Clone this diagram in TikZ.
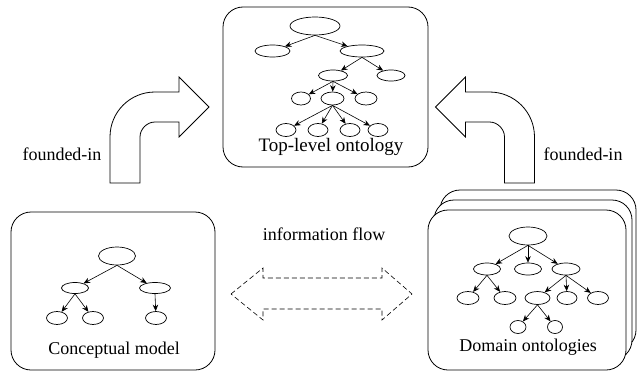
\documentclass[tikz,border=0pt]{standalone}
\usepackage{fontspec}
\setmainfont{Liberation Serif}
\usetikzlibrary{shapes.geometric, arrows.meta}

\begin{document}
\begin{tikzpicture}[
    x=1pt, y=-1pt,
    font=\fontsize{18}{20}\selectfont,
    line width=0.7pt,
    oval/.style args={#1x#2}{ellipse, draw, inner sep=0pt,
        minimum width=#1pt, minimum height=#2pt},
    link/.style={-{Stealth[length=6.5pt, width=5.5pt]}, line width=0.6pt},
    panel/.style={draw, fill=white, rounded corners=20pt, line width=0.8pt},
    % Big bent arrow, drawn as a shape
    bent arrow/.pic={
        \draw[line width=0.8pt] (110,183) -- (110,137)
            .. controls (110,112) and (130,92) .. (155,92)
            -- (179,92) -- (179,77) -- (209,107) -- (179,137) -- (179,122)
            -- (155,122) .. controls (147,122) and (140,129) .. (140,137)
            -- (140,183) -- cycle;
    }
]
    \useasboundingbox (0,0) rectangle (637,372);

    % Boxes
    \draw[panel] (223,7) rectangle (428,167);
    \draw[panel] (11,212) rectangle (215,370);
    \draw[panel] (440,190) rectangle (636,350);
    \draw[panel] (434,200) rectangle (632,360);
    \draw[panel] (428,210) rectangle (626,370);

    % Top-level tree
    \node[oval=50x18] (top_root) at (315,26) {};
    \node[oval=35x12] (top_a) at (272.5,51) {};
    \node[oval=44x12] (top_b) at (362,51) {};
    \node[oval=29x11] (top_ba) at (333,75.5) {};
    \node[oval=28x11] (top_bb) at (391,75.5) {};
    \node[oval=19x13] (top_baa) at (301,98.5) {};
    \node[oval=23x13] (top_bab) at (332.5,98.5) {};
    \node[oval=22x13] (top_bac) at (366,98.5) {};
    \node[oval=20x13] (top_leaf1) at (286,130) {};
    \node[oval=20x13] (top_leaf2) at (318,130) {};
    \node[oval=20x13] (top_leaf3) at (350,130) {};
    \node[oval=20x13] (top_leaf4) at (378,130) {};

    % Conceptual tree
    \node[oval=37x18] (con_root) at (117,256) {};
    \node[oval=27x11] (con_a) at (75,288) {};
    \node[oval=31x11] (con_b) at (155,288) {};
    \node[oval=21x13] (con_aa) at (57,318) {};
    \node[oval=21x13] (con_ab) at (93,318) {};
    \node[oval=21x13] (con_ba) at (156,318) {};

    % Domain tree
    \node[oval=38x18] (dom_root) at (528,236) {};
    \node[oval=27x12] (dom_a) at (487,269) {};
    \node[oval=27x12] (dom_b) at (528,269) {};
    \node[oval=28x12] (dom_c) at (566,269) {};
    \node[oval=22x13] (dom_aa) at (468,298) {};
    \node[oval=22x13] (dom_ab) at (505,298) {};
    \node[oval=25x13] (dom_ca) at (537.5,298) {};
    \node[oval=20x13] (dom_cb) at (567,298) {};
    \node[oval=21x13] (dom_cc) at (598,298) {};
    \node[oval=16x13] (dom_caa) at (518,327) {};
    \node[oval=15x13] (dom_cab) at (555,327) {};

    % Tree edges
    \foreach \p/\c in {top_root/top_a, top_root/top_b, top_b/top_ba, top_b/top_bb,
        top_ba/top_baa, top_ba/top_bab, top_ba/top_bac,
        top_bab/top_leaf1, top_bab/top_leaf2, top_bab/top_leaf3, top_bab/top_leaf4,
        con_root/con_a, con_root/con_b, con_a/con_aa, con_a/con_ab, con_b/con_ba,
        dom_root/dom_a, dom_root/dom_b, dom_root/dom_c, dom_a/dom_aa, dom_a/dom_ab,
        dom_c/dom_ca, dom_c/dom_cb, dom_c/dom_cc, dom_ca/dom_caa, dom_ca/dom_cab}
        \draw[link] (\p.south) -- (\c);

    % Labels
    \node[anchor=base, font=\fontsize{19}{21}\selectfont] (top_label) at (331,151) {Top-level ontology};
    \node[anchor=base] (con_label) at (114,354) {Conceptual model};
    \node[anchor=base] (dom_label) at (528,351) {Domain ontologies};
    \node[anchor=base] (found_left) at (62,160) {founded-in};
    \node[anchor=base] (found_right) at (583,160) {founded-in};
    \node[anchor=base] (flow_label) at (324,240) {information flow};

    % founded-in arrows
    \pic at (0,0) {bent arrow};
    \pic[xscale=-1] at (644.5,0) {bent arrow};

    % information flow arrow
    \draw[dashed, dash pattern=on 5pt off 3pt, line width=0.6pt]
        (231,294) -- (263,268) -- (263,278) -- (382,278) -- (382,268)
        -- (412,294) -- (382,320) -- (382,309) -- (263,309) -- (263,320) -- cycle;
\end{tikzpicture}
\end{document}
